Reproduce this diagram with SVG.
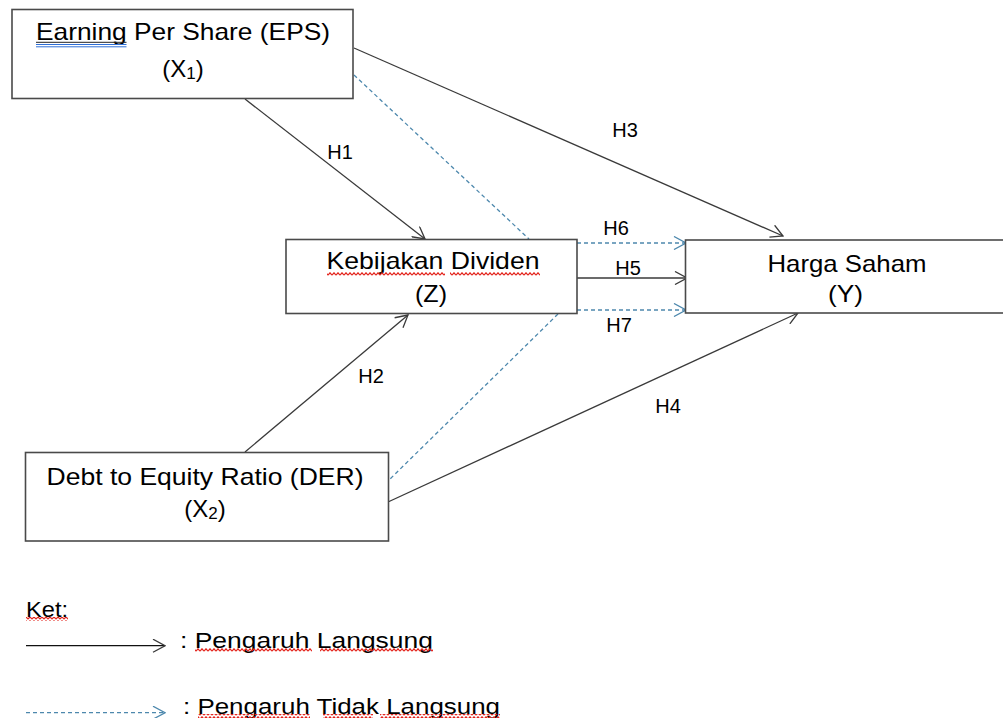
<svg xmlns="http://www.w3.org/2000/svg" width="1003" height="718" viewBox="0 0 1003 718">
<style>
.box{fill:#fff;stroke:#4a4a4a;stroke-width:1.6}
.t{font-family:"Liberation Sans",Arial,sans-serif;fill:#000}
.main{font-size:24px;text-anchor:middle}
.lbl{font-size:20px;text-anchor:middle}
.leg{font-size:22px}
.solid{stroke:#3a3a3a;stroke-width:1.3;fill:none}
.dash{stroke:#4d88ad;stroke-width:1.3;fill:none;stroke-dasharray:4 3}
</style>
<defs>
<marker id="ah" markerUnits="userSpaceOnUse" viewBox="0 0 14 14" markerWidth="14" markerHeight="14" refX="13" refY="7" orient="auto">
<path d="M1,0.5 L13,7 L1,13.5" fill="none" stroke="#3a3a3a" stroke-width="1.3"/>
</marker>
<marker id="ahb" markerUnits="userSpaceOnUse" viewBox="0 0 14 14" markerWidth="14" markerHeight="14" refX="13" refY="7" orient="auto">
<path d="M1,0.5 L13,7 L1,13.5" fill="none" stroke="#4d88ad" stroke-width="1.3"/>
</marker>
<pattern id="wave" patternUnits="userSpaceOnUse" width="4" height="4">
<path d="M0,3.2 L2,0.8 L4,3.2" fill="none" stroke="#e3231b" stroke-width="1.2"/>
</pattern>
</defs>

<g id="connectors">
<line class="solid" x1="245" y1="99" x2="425" y2="239" marker-end="url(#ah)"/>
<line class="solid" x1="245" y1="452" x2="408" y2="315" marker-end="url(#ah)"/>
<line class="solid" x1="354" y1="48" x2="783" y2="236" marker-end="url(#ah)"/>
<line class="solid" x1="388" y1="502" x2="798" y2="313" marker-end="url(#ah)"/>
<line class="solid" x1="577" y1="278" x2="687" y2="278" marker-end="url(#ah)"/>
<line class="dash" x1="577" y1="243" x2="686" y2="243" marker-end="url(#ahb)"/>
<line class="dash" x1="577" y1="310" x2="686" y2="310" marker-end="url(#ahb)"/>
<line class="dash" x1="354" y1="75" x2="529" y2="239"/>
<line class="dash" x1="558" y1="314" x2="389" y2="480"/>
<text class="t lbl" x="340" y="159">H1</text>
<text class="t lbl" x="371" y="383">H2</text>
<text class="t lbl" x="625" y="137">H3</text>
<text class="t lbl" x="668" y="413">H4</text>
<text class="t lbl" x="628" y="275">H5</text>
<text class="t lbl" x="616" y="235">H6</text>
<text class="t lbl" x="619" y="332">H7</text>
</g>

<g id="node-eps">
<rect class="box" x="12" y="9.5" width="341" height="89"/>
<text class="t main" x="183" y="40" textLength="294" lengthAdjust="spacingAndGlyphs">Earning Per Share (EPS)</text>
<text class="t main" x="183" y="77">(X<tspan font-size="17" dy="2">1</tspan><tspan dy="-2">)</tspan></text>
</g>

<g id="node-z">
<rect class="box" x="286" y="239.5" width="291" height="74"/>
<text class="t main" x="433" y="269" textLength="213" lengthAdjust="spacingAndGlyphs">Kebijakan Dividen</text>
<text class="t main" x="431" y="302" textLength="32" lengthAdjust="spacingAndGlyphs">(Z)</text>
</g>

<g id="node-y">
<rect class="box" x="685.5" y="240" width="330" height="73"/>
<text class="t main" x="847" y="271.5" textLength="159" lengthAdjust="spacingAndGlyphs">Harga Saham</text>
<text class="t main" x="845.5" y="302" textLength="35" lengthAdjust="spacingAndGlyphs">(Y)</text>
</g>

<g id="node-der">
<rect class="box" x="25.5" y="452.5" width="363" height="88.5"/>
<text class="t main" x="205" y="485" textLength="317" lengthAdjust="spacingAndGlyphs">Debt to Equity Ratio (DER)</text>
<text class="t main" x="205" y="517">(X<tspan font-size="17" dy="2">2</tspan><tspan dy="-2">)</tspan></text>
</g>

<g id="legend">
<text class="t leg" x="26" y="616.7" textLength="42" lengthAdjust="spacingAndGlyphs">Ket:</text>
<line x1="26" y1="645.7" x2="165" y2="645.7" stroke="#111" stroke-width="1.3" marker-end="url(#ah)"/>
<text class="t leg" x="180" y="648.3" textLength="253" lengthAdjust="spacingAndGlyphs">: Pengaruh Langsung</text>
<line class="dash" x1="26" y1="712.7" x2="165" y2="712.7" marker-end="url(#ahb)"/>
<text class="t leg" x="183" y="714.3" textLength="317" lengthAdjust="spacingAndGlyphs">: Pengaruh Tidak Langsung</text>
</g>

<g id="spellcheck-marks">
<line x1="36" y1="42.3" x2="126.5" y2="42.3" stroke="#222" stroke-width="1"/>
<line x1="36" y1="44.5" x2="126.5" y2="44.5" stroke="#2f6fd6" stroke-width="1"/>
<line x1="36" y1="46.8" x2="126.5" y2="46.8" stroke="#2f6fd6" stroke-width="1"/>
<rect x="327" y="272" width="118" height="4" fill="url(#wave)"/>
<rect x="450" y="272" width="90" height="4" fill="url(#wave)"/>
<rect x="26" y="617" width="42" height="4" fill="url(#wave)"/>
<rect x="195" y="648" width="117" height="4" fill="url(#wave)"/>
<rect x="320" y="648" width="113" height="4" fill="url(#wave)"/>
<rect x="198" y="714" width="112" height="4" fill="url(#wave)"/>
<rect x="323" y="714" width="50" height="4" fill="url(#wave)"/>
<rect x="380" y="714" width="120" height="4" fill="url(#wave)"/>
</g>
</svg>
